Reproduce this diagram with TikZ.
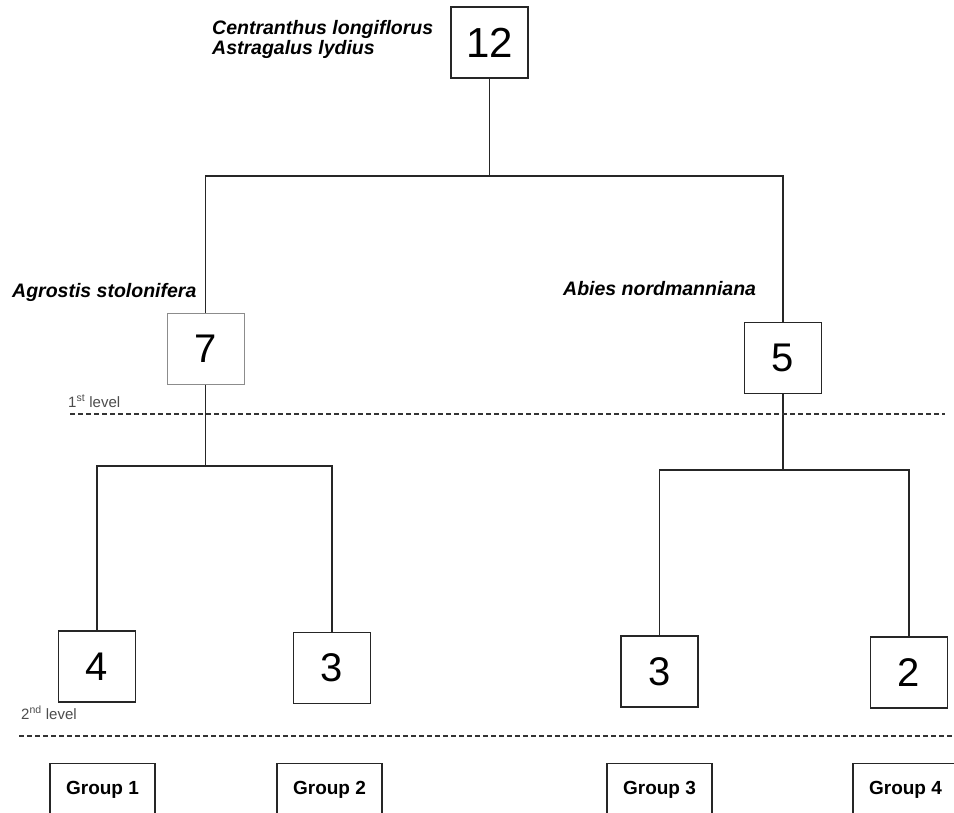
\documentclass[tikz,border=0pt]{standalone}
\usepackage{fontspec}
\setmainfont{Liberation Sans}
\usepackage{tikz}
\usetikzlibrary{calc,positioning}

\begin{document}
\begin{tikzpicture}[x=1pt,y=-1pt,
		numbox/.style={draw=black!85,line width=1.5pt,minimum width=77pt,minimum height=71pt,inner sep=0pt,font=\fontsize{40}{40}\selectfont},
		groupbox/.style={draw=black!85,line width=1.4pt,anchor=north,minimum width=105pt,inner xsep=0pt,inner ysep=0pt,text height=31pt,text depth=30pt,font=\bfseries\fontsize{19}{19}\selectfont},
		species/.style={inner sep=0pt,align=left,font=\bfseries\itshape\fontsize{19.5}{16}\selectfont},
		levellab/.style={inner sep=0pt,anchor=base west,text=black!70,font=\fontsize{15}{15}\selectfont},
		branch/.style={line width=1.2pt,draw=black!85},
		levelline/.style={dash pattern=on 5pt off 3pt,line width=1.8pt,draw=black!80}]
		\useasboundingbox (0,0) rectangle (954,812);

		\node[numbox,font=\fontsize{42}{42}\selectfont] (b12) at (489.5,42.5) {12};
		\node[numbox,draw=black!45,line width=1pt] (b7) at (205.5,348.5) {7};
		\node[numbox] (b5) at (783,358) {5};
		\node[numbox] (b4) at (97,666.5) {4};
		\node[numbox] (b3l) at (332,668) {3};
		\node[numbox] (b3r) at (659.5,671.5) {3};
		\node[numbox] (b2) at (909,672.5) {2};

		\node[species,anchor=north west] (sp12) at (212,20.5) {Centranthus longiflorus\\Astragalus lydius};
		\node[species,anchor=base west] (sp7) at (12,297) {Agrostis stolonifera};
		\node[species,anchor=base west] (sp5) at (563,295) {Abies nordmanniana};

		\node[levellab] (lev1) at (68,407) {1\textsuperscript{st} level};
		\node[levellab] (lev2) at (21,719) {2\textsuperscript{nd} level};

		\coordinate (top) at (489.5,176);
		\coordinate (splitL) at (205.5,466);
		\coordinate (splitR) at (783,470);

		\draw[branch] (b12.south) -- (top);
		\draw[branch] (b7.north) |- (top) -| (b5.north);
		\draw[branch] (b7.south) -- (splitL);
		\draw[branch] (b4.north) |- (splitL) -| (b3l.north);
		\draw[branch] (b5.south) -- (splitR);
		\draw[branch] (b3r.north) |- (splitR) -| (b2.north);

		\draw[levelline] (70,414) -- (945,414);
		\draw[levelline] (19,736) -- (954,736);

		\node[groupbox] (g1) at (102.5,763) {Group 1};
		\node[groupbox] (g2) at (329.5,763) {Group 2};
		\node[groupbox] (g3) at (659.5,763) {Group 3};
		\node[groupbox] (g4) at (905.5,763) {Group 4};
	\end{tikzpicture}
\end{document}
